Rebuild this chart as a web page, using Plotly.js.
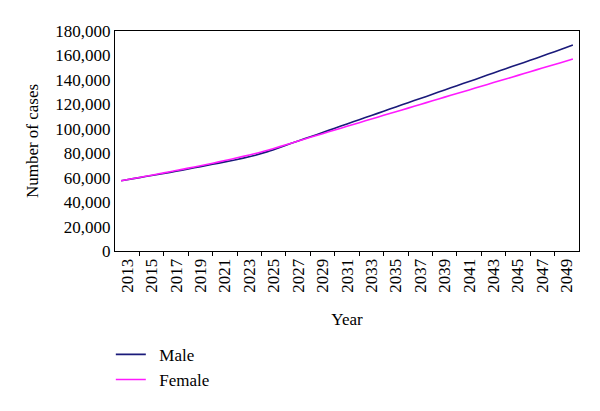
<!DOCTYPE html>
<html>
<head>
<meta charset="utf-8">
<script src="https://cdn.plot.ly/plotly-3.0.1.min.js"></script>
<style>html,body{margin:0;padding:0;background:#fff;}#chart{width:600px;height:411px;}</style>
</head>
<body>
<div id="chart"></div>
<script>
const years = [2013,2014,2015,2016,2017,2018,2019,2020,2021,2022,2023,2024,2025,2026,2027,2028,2029,2030,2031,2032,2033,2034,2035,2036,2037,2038,2039,2040,2041,2042,2043,2044,2045,2046,2047,2048,2049,2050];
const male = [57500,59200,60900,62600,64300,66100,68100,70000,71900,73900,76000,78400,81300,84700,88300,91800,95200,98700,102200,105700,109200,112600,116100,119600,123100,126500,130000,133500,137000,140400,143900,147400,150900,154300,157800,161300,164800,168500];
const female = [57500,59300,61100,63000,64900,66800,68800,70800,72900,75100,77400,79800,82500,85400,88400,91500,94500,97500,100500,103500,106500,109500,112500,115400,118400,121400,124400,127400,130300,133300,136300,139300,142200,145200,148200,151200,154100,157100];
const tickLabels = ["2013","2015","2017","2019","2021","2023","2025","2027","2029","2031","2033","2035","2037","2039","2041","2043","2045","2047","2049"];
const seriesNames = ["Male", "Female"];

const labelPos = tickLabels.map(t => Number(t) + 0.5);
const boundaryPos = tickLabels.slice(0, -1).map(t => Number(t) + 1.5);

const font = {family: '"Liberation Serif", "Times New Roman", serif', size: 17, color: '#000'};
const pad = '\u00a0\u00a0';

const traces = [
  {x: years, y: male, type: 'scatter', mode: 'lines', name: pad + seriesNames[0],
   line: {color: '#1a1a7a', width: 1.6, shape: 'spline', smoothing: 0.6}},
  {x: years, y: female, type: 'scatter', mode: 'lines', name: pad + seriesNames[1],
   line: {color: '#ff1aff', width: 1.6, shape: 'spline', smoothing: 0.6}}
];

const layout = {
  width: 600, height: 411,
  margin: {l: 115, r: 21, t: 31, b: 160},
  paper_bgcolor: '#fff', plot_bgcolor: '#fff',
  font: font,
  showlegend: true,
  legend: {x: -0.009, xanchor: 'left', y: -0.39, yanchor: 'top', font: font,
           bgcolor: 'rgba(0,0,0,0)', tracegroupgap: 0},
  xaxis: {
    range: [2012.5, 2050.5],
    tickmode: 'array', tickvals: labelPos, ticktext: tickLabels,
    tickangle: -90, ticks: '', showgrid: false, zeroline: false,
    showline: true, linecolor: '#000', linewidth: 1, mirror: true,
    tickfont: font,
    minor: {tickmode: 'array', tickvals: boundaryPos, ticks: 'outside', ticklen: 4, tickwidth: 1, tickcolor: '#000', showgrid: false},
    title: {text: 'Year', font: font, standoff: 21}
  },
  yaxis: {
    range: [0, 180000], tickmode: 'linear', tick0: 0, dtick: 20000,
    tickformat: ',d', ticks: '', showgrid: false, zeroline: false,
    showline: true, linecolor: '#000', linewidth: 1, mirror: true,
    tickfont: font,
    title: {text: 'Number of cases', font: font, standoff: 12}
  }
};

Plotly.newPlot('chart', traces, layout, {displayModeBar: false, staticPlot: true});
</script>
</body>
</html>
